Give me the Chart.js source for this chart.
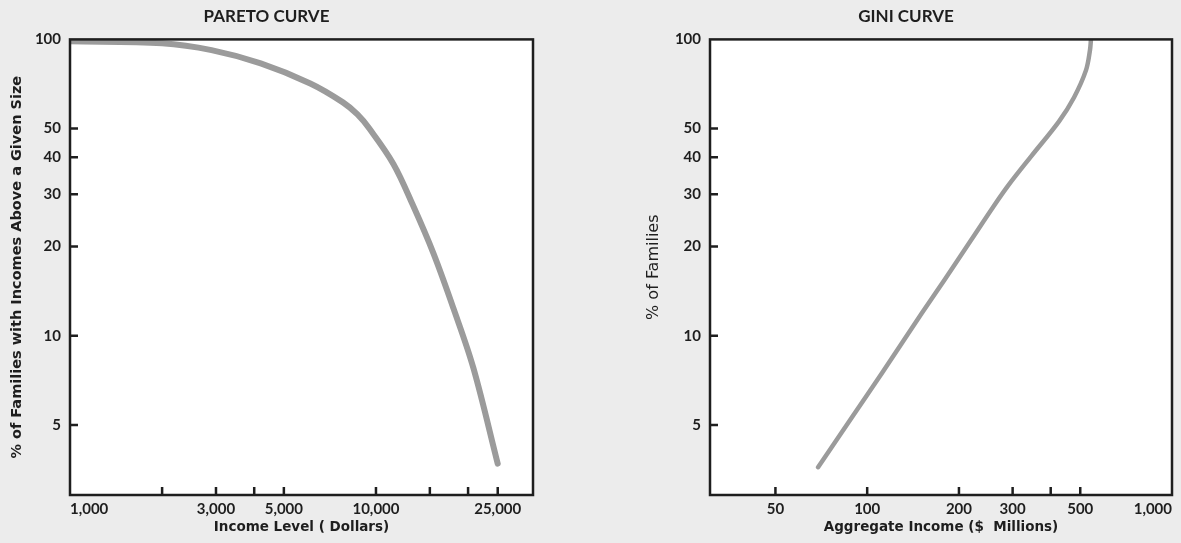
<!DOCTYPE html>
<html>
<head>
<meta charset="utf-8">
<script src="https://cdn.jsdelivr.net/npm/chart.js@4.4.1/dist/chart.umd.min.js"></script>
<style>
  body { margin: 0; background: #ececec; width: 1181px; height: 543px; overflow: hidden; }
  .box { position: absolute; top: 0; height: 543px; }
  #left { left: 0; width: 540px; }
  #right { left: 640px; width: 541px; }
</style>
</head>
<body>
<div class="box" id="left"><canvas id="pareto"></canvas></div>
<div class="box" id="right"><canvas id="gini"></canvas></div>
<script>
// Pareto curve: income level (dollars) vs % of families above it
const paretoIncome = [1000, 2000, 2900, 4200, 6100, 7800, 8700, 9500, 11400, 13200, 15400, 17900, 20800, 25000];
const paretoPercent = [98.5, 97, 92, 83, 71, 61.3, 55.8, 50.1, 38, 27.6, 19, 12.4, 7.8, 3.7];

// Gini curve: aggregate income ($ millions) vs % of families
const giniIncome = [69, 88, 112, 151, 179, 219, 259, 292, 345, 426, 477, 522, 538, 542];
const giniPercent = [3.6, 5.2, 7.5, 11.9, 15.4, 21, 27.2, 32.4, 40.3, 52.9, 63.7, 78.6, 91.8, 99.5];

const percentTicks = [5, 10, 20, 30, 40, 50, 100];
const percentLabels = ["5", "10", "20", "30", "40", "50", "100"];

const paretoTicks = [1000, 2000, 3000, 4000, 5000, 10000, 15000, 20000, 25000];
const paretoLabels = ["1,000", "", "3,000", "", "5,000", "10,000", "", "", "25,000"];

const giniTicks = [50, 100, 200, 300, 400, 500, 1000];
const giniLabels = ["50", "100", "200", "300", "", "500", "1,000"];

const ink = "#1e1e1e";
const curveColor = "#9b9b9b";
const tickFont = { family: "Lato", size: 15, weight: "bold" };
const titleFont = { family: "DejaVu Sans", size: 13.5, weight: "bold" };

// white plot area, black frame and inward tick marks
const frame = {
  id: "frame",
  beforeDraw(chart) {
    const a = chart.chartArea, ctx = chart.ctx;
    ctx.save();
    ctx.fillStyle = "#ffffff";
    ctx.fillRect(a.left, a.top, a.right - a.left, a.bottom - a.top);
    ctx.restore();
  },
  afterDatasetsDraw(chart) {
    const a = chart.chartArea, ctx = chart.ctx;
    const xs = chart.scales.x, ys = chart.scales.y;
    ctx.save();
    ctx.strokeStyle = ink;
    ctx.lineWidth = 2.5;
    ctx.strokeRect(a.left, a.top, a.right - a.left, a.bottom - a.top);
    ctx.beginPath();
    xs.options.tickMarks.forEach(v => {
      const px = xs.getPixelForValue(v);
      if (px <= a.left + 2 || px >= a.right - 2) return;
      ctx.moveTo(px, a.bottom);
      ctx.lineTo(px, a.bottom - 8);
    });
    ys.options.tickMarks.forEach(v => {
      const py = ys.getPixelForValue(v);
      if (py <= a.top + 2 || py >= a.bottom - 2) return;
      ctx.moveTo(a.left, py);
      ctx.lineTo(a.left + 8, py);
    });
    ctx.stroke();
    ctx.restore();
  }
};

function logAxis(min, max, values, labels, extra) {
  const all = [min, ...values, max].filter((v, i, arr) => arr.indexOf(v) === i);
  return Object.assign({
    type: "logarithmic",
    min: min,
    max: max,
    tickMarks: values,
    afterBuildTicks: s => { s.ticks = all.map(v => ({ value: v })); },
    grid: { display: false, drawTicks: false },
    border: { display: false },
    ticks: {
      autoSkip: false,
      maxRotation: 0,
      color: ink,
      font: tickFont,
      padding: 9,
      callback: v => {
        const i = values.indexOf(v);
        return i < 0 ? "" : labels[i];
      }
    }
  }, extra);
}

function xAxis(min, max, values, labels, text) {
  const a = logAxis(min, max, values, labels, {
    afterFit: s => { s.height = 48; },
    title: {
      display: true,
      text: text,
      color: ink,
      font: titleFont,
      padding: { top: 0, bottom: 7 }
    }
  });
  a.ticks.align = "inner";
  a.ticks.padding = 5;
  return a;
}

function makeChart(id, xs, ys, title, line, xScale, yTitle, yTitlePad, yTitleFont, padRight) {
  return new Chart(document.getElementById(id), {
    type: "line",
    data: {
      datasets: [{
        data: xs.map((x, i) => ({ x: x, y: ys[i] })),
        borderColor: curveColor,
        borderWidth: line,
        borderCapStyle: "round",
        borderJoinStyle: "round",
        pointRadius: 0,
        tension: 0.35,
        fill: false
      }]
    },
    options: {
      responsive: true,
      maintainAspectRatio: false,
      animation: false,
      layout: { padding: { left: 0, right: padRight, top: 0, bottom: 0 } },
      plugins: {
        legend: { display: false },
        tooltip: { enabled: false },
        title: {
          display: true,
          text: title,
          color: ink,
          font: { family: "Lato", size: 17, weight: "bold" },
          padding: { top: 6, bottom: 13 }
        }
      },
      scales: {
        x: xScale,
        y: logAxis(2.9, 100, percentTicks, percentLabels, {
          afterFit: s => { s.width = 70; },
          title: {
            display: true,
            text: yTitle,
            color: ink,
            font: yTitleFont,
            padding: { top: yTitlePad, bottom: 0 }
          }
        })
      }
    },
    plugins: [frame]
  });
}

makeChart("pareto", paretoIncome, paretoPercent, "PARETO CURVE", 6,
  xAxis(1000, 32600, paretoTicks, paretoLabels, "Income Level ( Dollars)"),
  "% of Families with Incomes Above a Given Size", 9,
  { family: "DejaVu Sans", size: 14.5, weight: "bold" }, 7);

makeChart("gini", giniIncome, giniPercent, "GINI CURVE", 4.5,
  xAxis(30.5, 1000, giniTicks, giniLabels, "Aggregate Income ($  Millions)"),
  "% of Families", 4,
  { family: "DejaVu Sans", size: 16, weight: "normal" }, 9);
</script>
</body>
</html>
